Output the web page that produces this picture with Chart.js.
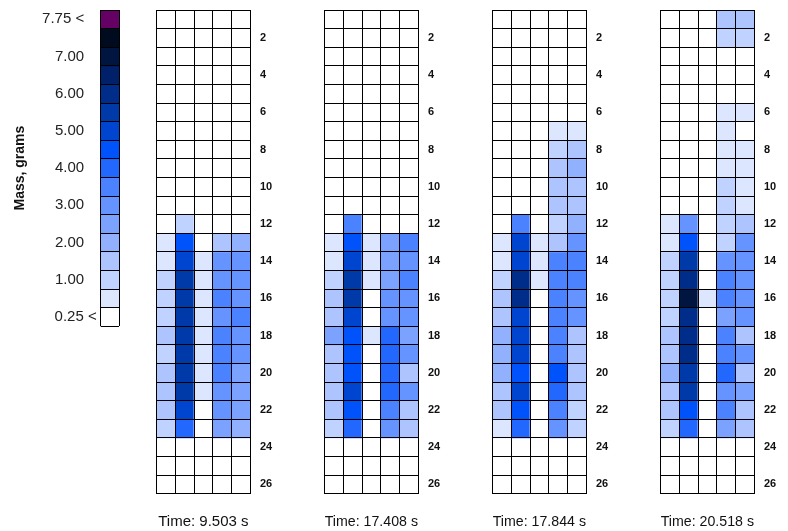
<!DOCTYPE html>
<html>
<head>
<meta charset="utf-8">
<script src="https://cdn.jsdelivr.net/npm/chart.js@4/dist/chart.umd.min.js"></script>
<style>
  html, body { margin: 0; padding: 0; background: #fff; }
  body { width: 788px; height: 531px; position: relative; overflow: hidden; }
  canvas { position: absolute; top: 0; }
</style>
</head>
<body>
<canvas id="legend" width="125" height="531" style="left:0px"></canvas>
<canvas id="p0" width="140" height="531" style="left:150px"></canvas>
<canvas id="p1" width="140" height="531" style="left:318px"></canvas>
<canvas id="p2" width="140" height="531" style="left:486px"></canvas>
<canvas id="p3" width="140" height="531" style="left:654px"></canvas>
<script>
// Mass scale: one colour per 0.5 g step, 0 g (white) up to 8 g (purple)
const massSteps = [0, 0.5, 1.0, 1.5, 2.0, 2.5, 3.0, 3.5, 4.0, 4.5, 5.0, 5.5, 6.0, 6.5, 7.0, 7.5, 8.0];
const stepColors = ['#ffffff', '#dde6ff', '#c0d2ff', '#adc4ff', '#91b1ff', '#7ca2ff', '#6593ff', '#4a82ff',
                    '#2268ff', '#0052fa', '#0045cf', '#003aa8', '#002d8a', '#00216a', '#001540', '#000b1f', '#650065'];
const legendLabels = ['7.75 <   ', '7.00   ', '6.00   ', '5.00   ', '4.00   ', '3.00   ', '2.00   ', '1.00   ', '0.25 <'];
const legendTitle = 'Mass, grams';

// Grid: 26 rows x 5 columns per snapshot
const columns = ['1', '2', '3', '4', '5'];
const rowTicks = [2, 4, 6, 8, 10, 12, 14, 16, 18, 20, 22, 24, 26];
const times = ['9.503', '17.408', '17.844', '20.518'];

const massT0 = [
  [0, 0, 0, 0, 0], [0, 0, 0, 0, 0], [0, 0, 0, 0, 0], [0, 0, 0, 0, 0], [0, 0, 0, 0, 0],
  [0, 0, 0, 0, 0], [0, 0, 0, 0, 0], [0, 0, 0, 0, 0], [0, 0, 0, 0, 0], [0, 0, 0, 0, 0],
  [0, 0, 0, 0, 0],
  [0, 1.0, 0, 0, 0],
  [0.5, 4.5, 0, 1.5, 2.0],
  [0.5, 5.0, 0.5, 3.0, 3.0],
  [1.0, 5.5, 0.5, 3.0, 3.0],
  [1.0, 5.5, 0.5, 3.5, 3.0],
  [1.0, 5.5, 0.5, 3.0, 3.5],
  [1.5, 5.5, 0.5, 3.5, 3.0],
  [1.0, 5.5, 0.5, 3.5, 3.0],
  [1.5, 5.5, 0.5, 3.5, 2.5],
  [1.5, 5.5, 0.5, 3.0, 2.5],
  [1.5, 5.0, 0, 3.0, 2.5],
  [1.0, 4.0, 0, 2.5, 2.0],
  [0, 0, 0, 0, 0], [0, 0, 0, 0, 0], [0, 0, 0, 0, 0]
];

const massT1 = [
  [0, 0, 0, 0, 0], [0, 0, 0, 0, 0], [0, 0, 0, 0, 0], [0, 0, 0, 0, 0], [0, 0, 0, 0, 0],
  [0, 0, 0, 0, 0], [0, 0, 0, 0, 0], [0, 0, 0, 0, 0], [0, 0, 0, 0, 0], [0, 0, 0, 0, 0],
  [0, 0, 0, 0, 0],
  [0, 3.5, 0, 0, 0],
  [0.5, 4.5, 0.5, 2.5, 3.5],
  [0.5, 5.0, 0.5, 2.5, 3.0],
  [1.0, 5.5, 0.5, 2.5, 3.5],
  [1.5, 5.5, 0, 3.0, 3.0],
  [1.5, 5.0, 0, 3.0, 3.0],
  [2.5, 4.5, 0.5, 4.0, 2.5],
  [1.5, 4.5, 0, 4.0, 3.0],
  [1.5, 4.5, 0, 4.0, 1.5],
  [1.5, 5.0, 0, 4.0, 3.0],
  [1.5, 4.5, 0, 3.5, 1.5],
  [1.0, 4.0, 0, 3.0, 1.5],
  [0, 0, 0, 0, 0], [0, 0, 0, 0, 0], [0, 0, 0, 0, 0]
];

const massT2 = [
  [0, 0, 0, 0, 0], [0, 0, 0, 0, 0], [0, 0, 0, 0, 0], [0, 0, 0, 0, 0], [0, 0, 0, 0, 0],
  [0, 0, 0, 0, 0],
  [0, 0, 0, 0.5, 0.5],
  [0, 0, 0, 1.0, 1.5],
  [0, 0, 0, 1.5, 2.0],
  [0, 0, 0, 1.5, 1.5],
  [0, 0, 0, 1.5, 1.5],
  [0, 3.5, 0, 1.0, 2.0],
  [0.5, 5.0, 0.5, 1.5, 3.0],
  [0.5, 5.0, 0.5, 3.5, 3.5],
  [1.0, 6.0, 0.5, 3.5, 3.5],
  [1.5, 6.0, 0, 3.5, 3.0],
  [1.5, 5.0, 0, 3.5, 3.0],
  [2.0, 5.0, 0, 3.5, 1.5],
  [2.0, 5.0, 0, 3.5, 1.5],
  [2.0, 4.5, 0, 4.5, 1.5],
  [1.5, 5.0, 0, 4.0, 1.5],
  [1.5, 4.5, 0, 3.5, 1.0],
  [0.5, 4.0, 0, 3.0, 1.0],
  [0, 0, 0, 0, 0], [0, 0, 0, 0, 0], [0, 0, 0, 0, 0]
];

const massT3 = [
  [0, 0, 0, 1.5, 1.5],
  [0, 0, 0, 1.0, 1.0],
  [0, 0, 0, 0, 0], [0, 0, 0, 0, 0], [0, 0, 0, 0, 0],
  [0, 0, 0, 0.5, 0.5],
  [0, 0, 0, 0.5, 0],
  [0, 0, 0, 0.5, 0.5],
  [0, 0, 0, 0.5, 0.5],
  [0, 0, 0, 1.0, 0.5],
  [0, 0, 0, 1.0, 0.5],
  [0.5, 3.0, 0, 1.0, 1.5],
  [0.5, 4.5, 0, 1.0, 3.0],
  [1.0, 5.5, 0, 3.0, 3.0],
  [1.0, 6.0, 0, 3.5, 3.0],
  [1.0, 7.0, 0.5, 3.5, 3.0],
  [1.0, 6.0, 0, 2.5, 3.0],
  [1.5, 6.0, 0, 3.5, 1.5],
  [1.5, 6.0, 0, 3.5, 3.0],
  [2.0, 5.5, 0, 4.0, 1.5],
  [1.5, 5.5, 0, 3.0, 2.5],
  [1.5, 4.5, 0, 3.5, 1.5],
  [1.0, 4.0, 0, 2.5, 1.5],
  [0, 0, 0, 0, 0], [0, 0, 0, 0, 0], [0, 0, 0, 0, 0]
];

const snapshots = [massT0, massT1, massT2, massT3];

// Layout constants (pixels)
const GRID_TOP = 10;
const ROW_H = 18.6;
const COL_W = 18.66;
const FONT = "'Liberation Sans', Arial, sans-serif";

function colorFor(mass) {
  const idx = Math.max(0, Math.min(stepColors.length - 1, Math.round(mass / 0.5)));
  return stepColors[idx];
}

// Cells are plain filled bars; the cell outlines come from the axis grids drawn on top
const cellStyle = {
  borderWidth: 0,
  barPercentage: 1,
  categoryPercentage: 1
};

const commonOpts = {
  responsive: false,
  animation: false,
  events: [],
  plugins: { legend: { display: false }, tooltip: { enabled: false }, title: { display: false } }
};

// Grid lines above the filled cells
const cellLines = { display: true, z: 1, color: '#000', lineWidth: 1, drawTicks: false, drawOnChartArea: true };

// Keep the plot area exactly where the layout constants put it
function noEdgePadding(s) {
  s.paddingTop = 0; s.paddingBottom = 0; s.paddingLeft = 0; s.paddingRight = 0;
}

// Hidden linear axis whose unit grid lines outline every row
function rowLineAxis(nRows, position) {
  return {
    type: 'linear',
    position,
    reverse: true,
    min: 0,
    max: nRows,
    grid: Object.assign({}, cellLines),
    border: { display: false },
    ticks: { display: false, stepSize: 1, autoSkip: false },
    afterBuildTicks: (s) => {
      const t = [];
      for (let v = 0; v <= nRows; v++) t.push({ value: v });
      s.ticks = t;
    },
    afterFit: (s) => { s.width = 0; noEdgePadding(s); }
  };
}

// One stacked-bar heat map per snapshot: each dataset is one grid row
function drawSnapshot(canvasId, grid, time) {
  const nRows = grid.length;
  const datasets = grid.map((row, r) => Object.assign({
    label: 'row ' + (r + 1),
    data: row.map(() => 1),
    backgroundColor: row.map(colorFor)
  }, cellStyle));

  new Chart(document.getElementById(canvasId), {
    type: 'bar',
    data: { labels: columns, datasets },
    options: Object.assign({}, commonOpts, {
      layout: { padding: { top: GRID_TOP, left: 6.7, right: 0, bottom: 0 } },
      scales: {
        x: {
          stacked: true,
          grid: Object.assign({ offset: true }, cellLines),
          border: { display: false },
          ticks: { display: false },
          title: {
            display: true,
            text: 'Time: ' + time + ' s',
            color: '#111',
            font: { family: FONT, size: 15 },
            padding: { top: 0, bottom: 0 }
          },
          afterFit: (s) => { s.height = 531 - GRID_TOP - nRows * ROW_H; noEdgePadding(s); }
        },
        y: {
          stacked: true,
          position: 'right',
          reverse: true,
          min: 0,
          max: nRows,
          grid: { display: false, drawTicks: false },
          border: { display: false },
          afterBuildTicks: (s) => { s.ticks = rowTicks.map(v => ({ value: v - 0.5 })); },
          afterFit: (s) => { s.width = 40; noEdgePadding(s); },
          ticks: {
            autoSkip: false,
            padding: 10,
            color: '#111',
            font: { family: FONT, size: 11, weight: 'bold' },
            callback: (v, i) => String(rowTicks[i])
          }
        },
        rows: rowLineAxis(nRows, 'right')
      }
    })
  });
}

snapshots.forEach((g, i) => drawSnapshot('p' + i, g, times[i]));

// Colour key: one stacked column, highest mass on top
(function drawLegend() {
  const steps = massSteps.slice().reverse();
  const n = steps.length;
  const datasets = steps.map((m) => Object.assign({
    label: m.toFixed(2),
    data: [1],
    backgroundColor: colorFor(m)
  }, cellStyle));
  const tickPos = legendLabels.map((_, i) => i * 2 + 0.5);

  new Chart(document.getElementById('legend'), {
    type: 'bar',
    data: { labels: [''], datasets },
    options: Object.assign({}, commonOpts, {
      layout: { padding: { top: GRID_TOP, left: 0, right: 125 - 100.7 - COL_W, bottom: 531 - GRID_TOP - n * ROW_H } },
      scales: {
        x: {
          stacked: true,
          grid: Object.assign({ offset: true }, cellLines),
          border: { display: false },
          ticks: { display: false },
          afterFit: (s) => { s.height = 0; noEdgePadding(s); }
        },
        y: {
          stacked: true,
          position: 'left',
          reverse: true,
          min: 0,
          max: n,
          grid: { display: false, drawTicks: false },
          border: { display: false },
          afterBuildTicks: (s) => { s.ticks = tickPos.map(v => ({ value: v })); },
          afterFit: (s) => { s.width = 100.7; noEdgePadding(s); },
          title: {
            display: true,
            text: legendTitle,
            color: '#111',
            font: { family: FONT, size: 14, weight: 'bold' },
            padding: { top: 11.6, bottom: 0 }
          },
          ticks: {
            autoSkip: false,
            padding: 4,
            color: '#222',
            font: { family: FONT, size: 15 },
            callback: (v, i) => legendLabels[i]
          }
        },
        rows: rowLineAxis(n, 'right')
      }
    })
  });
})();
</script>
</body>
</html>
